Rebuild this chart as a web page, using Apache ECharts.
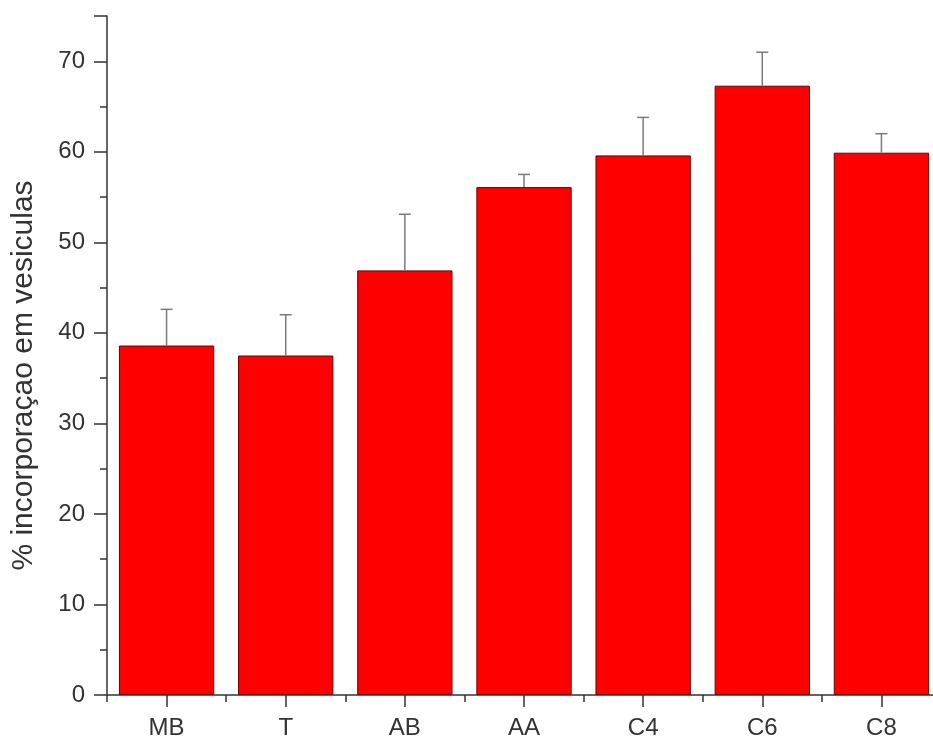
<!DOCTYPE html>
<html>
<head>
<meta charset="utf-8">
<script src="https://cdn.jsdelivr.net/npm/echarts@6/dist/echarts.min.js"></script>
<style>
html,body{margin:0;padding:0;background:#fff;overflow:hidden;}
#chart{width:933px;height:739px;}
</style>
</head>
<body>
<div id="chart"></div>
<script>
var categories = ['MB', 'T', 'AB', 'AA', 'C4', 'C6', 'C8'];
var values = [38.6, 37.5, 46.9, 56.1, 59.6, 67.3, 59.9];
var errors = [4.0, 4.5, 6.2, 1.4, 4.2, 3.7, 2.1];
var yTicks = [0, 10, 20, 30, 40, 50, 60, 70];

var chart = echarts.init(document.getElementById('chart'));
var font = 'Liberation Sans, Arial, sans-serif';

var errData = categories.map(function (c, i) { return [i, values[i], values[i] + errors[i]]; });

chart.setOption({
  animation: false,
  backgroundColor: '#fff',
  grid: { left: 107, top: 16, bottom: 44, width: 834, outerBoundsMode: 'none', containLabel: false },
  xAxis: [{
    type: 'category',
    data: categories,
    axisLine: { lineStyle: { color: '#333', width: 1.5 } },
    axisTick: { show: true, alignWithLabel: true, length: 12, lineStyle: { color: '#333', width: 1.5 } },
    axisLabel: { color: '#333', fontSize: 24, fontFamily: font, margin: 21 }
  }, {
    type: 'category',
    data: categories,
    position: 'bottom',
    axisLine: { show: false },
    axisTick: { show: true, length: 7, lineStyle: { color: '#333', width: 1.5 } },
    axisLabel: { show: false }
  }],
  yAxis: {
    type: 'value',
    min: 0,
    max: 75,
    interval: 10,
    name: '% incorporaçao em vesiculas',
    nameLocation: 'middle',
    nameGap: 68,
    nameTextStyle: { color: '#333', fontSize: 30, fontFamily: font, padding: [0, 40, 0, 0] },
    axisLine: { show: true, lineStyle: { color: '#333', width: 1.5 } },
    axisTick: { show: true, length: 13, lineStyle: { color: '#333', width: 1.5 } },
    minorTick: { show: true, splitNumber: 2, length: 7, lineStyle: { color: '#333', width: 1.5 } },
    splitLine: { show: false },
    axisLabel: {
      color: '#333', fontSize: 24, fontFamily: font, margin: 22, showMaxLabel: false,
      formatter: function (v) { return yTicks.indexOf(v) >= 0 ? String(v) : ''; }
    }
  },
  series: [{
    type: 'bar',
    data: values,
    barCategoryGap: '20%',
    itemStyle: { color: '#ff0000', borderColor: '#6a0000', borderWidth: 1 }
  }, {
    type: 'custom',
    data: errData,
    z: 3,
    renderItem: function (params, api) {
      var x = api.value(0);
      var lo = api.coord([x, api.value(1)]);
      var hi = api.coord([x, api.value(2)]);
      var cap = 6;
      var st = { stroke: '#7a7a7a', lineWidth: 1.5 };
      return {
        type: 'group',
        children: [
          { type: 'line', shape: { x1: lo[0], y1: lo[1], x2: hi[0], y2: hi[1] }, style: st },
          { type: 'line', shape: { x1: hi[0] - cap, y1: hi[1], x2: hi[0] + cap, y2: hi[1] }, style: st }
        ]
      };
    }
  }]
});
</script>
</body>
</html>
